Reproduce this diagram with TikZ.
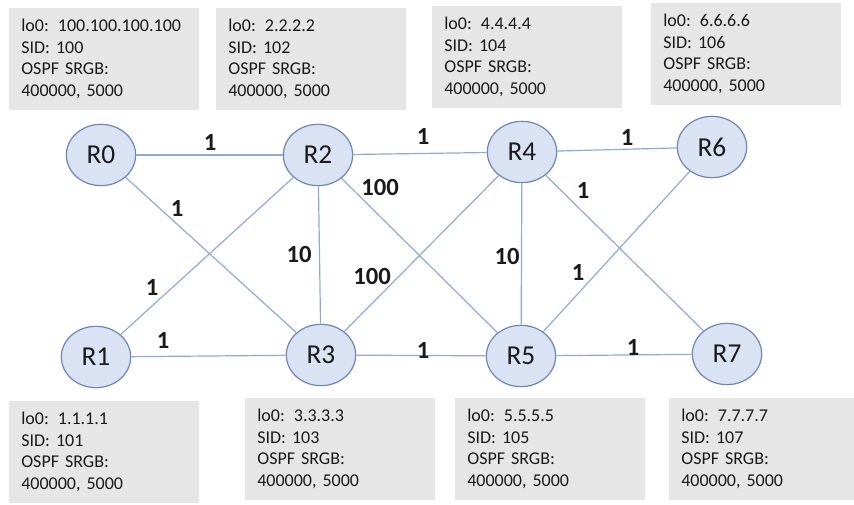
\documentclass[tikz,border=0pt]{standalone}
\usepackage{fontspec}
\setmainfont{Carlito}
\usetikzlibrary{shapes.geometric}
\definecolor{routerfill}{HTML}{DAE3F3}
\definecolor{routerline}{HTML}{6A87B5}
\definecolor{linkline}{HTML}{8EAADB}
\definecolor{boxgray}{HTML}{E6E6E6}
\definecolor{txt}{HTML}{1A1A1A}
\begin{document}
\begin{tikzpicture}[x=0.75pt, y=-0.75pt,
  router/.style={ellipse, draw=routerline, fill=routerfill, line width=0.9pt,
    minimum width=52pt, minimum height=46pt, inner sep=0pt,
    font=\fontsize{20.5}{24}\selectfont, text=txt},
  link/.style={draw=linkline, line width=0.9pt},
  cost/.style={font=\bfseries\fontsize{18.5}{22}\selectfont, text=txt, inner sep=0pt},
  infobox/.style={fill=boxgray, text width=124pt, inner xsep=9pt,
    minimum height=76pt, align=left, text=txt,
    font=\fontsize{13.5}{16.2}\selectfont}]
\useasboundingbox (0,0) rectangle (854,505);

\node[infobox] (b0) at (104,59) {lo0: 100.100.100.100\\SID: 100\\OSPF SRGB:\\400000, 5000};
\node[infobox] (b2) at (311,59) {lo0: 2.2.2.2\\SID: 102\\OSPF SRGB:\\400000, 5000};
\node[infobox] (b4) at (527,57) {lo0: 4.4.4.4\\SID: 104\\OSPF SRGB:\\400000, 5000};
\node[infobox] (b6) at (746,54) {lo0: 6.6.6.6\\SID: 106\\OSPF SRGB:\\400000, 5000};
\node[infobox] (b1) at (104,452) {lo0: 1.1.1.1\\SID: 101\\OSPF SRGB:\\400000, 5000};
\node[infobox] (b3) at (340,449) {lo0: 3.3.3.3\\SID: 103\\OSPF SRGB:\\400000, 5000};
\node[infobox] (b5) at (550,449) {lo0: 5.5.5.5\\SID: 105\\OSPF SRGB:\\400000, 5000};
\node[infobox] (b7) at (764,449) {lo0: 7.7.7.7\\SID: 107\\OSPF SRGB:\\400000, 5000};

\node[router] (R0) at (101,155) {R0};
\node[router] (R2) at (318,155) {R2};
\node[router] (R4) at (522,152) {R4};
\node[router] (R6) at (712,147) {R6};
\node[router] (R1) at (96,357) {R1};
\node[router] (R3) at (321,355) {R3};
\node[router] (R5) at (521,356) {R5};
\node[router] (R7) at (727,354) {R7};

\draw[link] (R0) -- (R2);
\draw[link] (R0) -- (R3);
\draw[link] (R1) -- (R2);
\draw[link] (R1) -- (R3);
\draw[link] (R2) -- (R3);
\draw[link] (R2) -- (R4);
\draw[link] (R2) -- (R5);
\draw[link] (R3) -- (R4);
\draw[link] (R3) -- (R5);
\draw[link] (R4) -- (R5);
\draw[link] (R4) -- (R6);
\draw[link] (R4) -- (R7);
\draw[link] (R5) -- (R6);
\draw[link] (R5) -- (R7);

\node[cost] (c02) at (210,142) {1};
\node[cost] (c24) at (423,136) {1};
\node[cost] (c46) at (627,137) {1};
\node[cost] (c03) at (177,208) {1};
\node[cost] (c12) at (152,287) {1};
\node[cost] (c13) at (163,340) {1};
\node[cost] (c23) at (299,255) {10};
\node[cost] (c25) at (380,188) {100};
\node[cost] (c34) at (372,277) {100};
\node[cost] (c35) at (423,350) {1};
\node[cost] (c45) at (507,257) {10};
\node[cost] (c47) at (583,190) {1};
\node[cost] (c56) at (578,272) {1};
\node[cost] (c57) at (633,347) {1};
\end{tikzpicture}
\end{document}
